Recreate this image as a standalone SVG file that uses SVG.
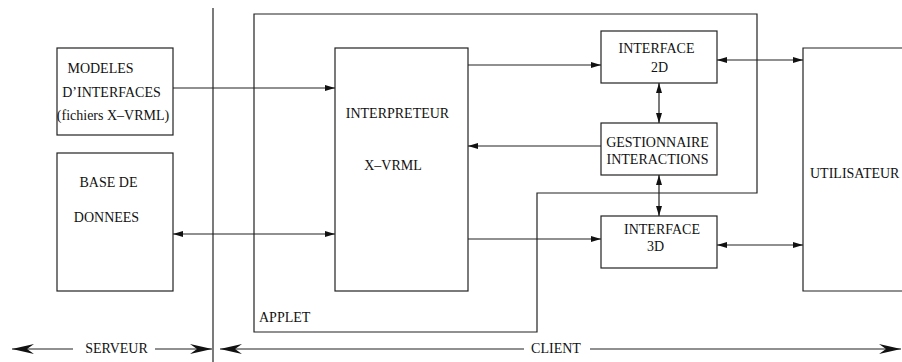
<svg xmlns="http://www.w3.org/2000/svg" width="902" height="362" viewBox="0 0 902 362" font-family="'Liberation Serif', 'Times New Roman', serif" font-size="14">
<defs>
<style>
.box{fill:none;stroke:#222;stroke-width:1.2}
.ln{fill:none;stroke:#222;stroke-width:1.2}
text{font-family:'Liberation Serif','Times New Roman',serif;font-size:14px;fill:#111;text-anchor:middle}
.st{text-anchor:start}
</style>
<marker id="ah" viewBox="0 0 10 6" refX="10" refY="3" markerWidth="10" markerHeight="6" markerUnits="userSpaceOnUse" orient="auto-start-reverse">
<path d="M0,0 L10,3 L0,6 Z" fill="#111"/>
</marker>
<marker id="big" viewBox="0 0 22 10" refX="22" refY="5" markerWidth="22" markerHeight="10" markerUnits="userSpaceOnUse" orient="auto-start-reverse">
<path d="M0,0 L22,5 L0,10 L7,5 Z" fill="#111"/>
</marker>
</defs>
<rect width="902" height="362" fill="#fff"/>
<g id="applet">
<path class="box" d="M254,14 H757 V193 H537 V332 H254 Z"/>
<text class="st" x="259" y="322">APPLET</text>
</g>
<g id="divider"><line class="ln" x1="213" y1="8" x2="213" y2="362"/></g>
<g id="modeles">
<rect class="box" x="57" y="48" width="116" height="87"/>
<text x="100.5" y="73">MODELES</text>
<text x="111.5" y="97">D’INTERFACES</text>
<text x="113" y="120">(fichiers X–VRML)</text>
</g>
<g id="base">
<rect class="box" x="57" y="153" width="116" height="138"/>
<text x="108.5" y="187">BASE DE</text>
<text x="106.5" y="222">DONNEES</text>
</g>
<g id="interpreteur">
<rect class="box" x="335" y="48" width="133" height="243"/>
<text x="397.5" y="118">INTERPRETEUR</text>
<text x="393" y="170">X–VRML</text>
</g>
<g id="interface2d">
<rect class="box" x="601" y="31" width="116" height="52"/>
<text x="656.5" y="53">INTERFACE</text>
<text x="659.5" y="72">2D</text>
</g>
<g id="gestionnaire">
<rect class="box" x="601" y="123" width="116" height="52"/>
<text x="657.5" y="147">GESTIONNAIRE</text>
<text x="657.5" y="164">INTERACTIONS</text>
</g>
<g id="interface3d">
<rect class="box" x="601" y="216" width="116" height="52"/>
<text x="662" y="234">INTERFACE</text>
<text x="655.5" y="251">3D</text>
</g>
<g id="utilisateur">
<path class="box" d="M910,48 H803 V291 H910"/>
<text class="st" x="810" y="178">UTILISATEUR</text>
</g>
<g id="connectors">
<line class="ln" x1="173" y1="88" x2="335" y2="88" marker-end="url(#ah)"/>
<line class="ln" x1="173" y1="234" x2="335" y2="234" marker-start="url(#ah)" marker-end="url(#ah)"/>
<line class="ln" x1="468" y1="65" x2="601" y2="65" marker-end="url(#ah)"/>
<line class="ln" x1="601" y1="146" x2="468" y2="146" marker-end="url(#ah)"/>
<line class="ln" x1="468" y1="239" x2="601" y2="239" marker-end="url(#ah)"/>
<line class="ln" x1="659" y1="83" x2="659" y2="123" marker-start="url(#ah)" marker-end="url(#ah)"/>
<line class="ln" x1="659" y1="175" x2="659" y2="216" marker-start="url(#ah)" marker-end="url(#ah)"/>
<line class="ln" x1="717" y1="60" x2="803" y2="60" marker-start="url(#ah)" marker-end="url(#ah)"/>
<line class="ln" x1="717" y1="245" x2="803" y2="245" marker-start="url(#ah)" marker-end="url(#ah)"/>
<line class="ln" x1="12" y1="349" x2="73" y2="349" marker-start="url(#big)"/>
<line class="ln" x1="155" y1="349" x2="212" y2="349" marker-end="url(#big)"/>
<line class="ln" x1="220" y1="349" x2="524" y2="349" marker-start="url(#big)"/>
<line class="ln" x1="590" y1="349" x2="901" y2="349" marker-end="url(#big)"/>
</g>
<g id="labels">
<text x="116.5" y="353">SERVEUR</text>
<text x="556" y="353">CLIENT</text>
</g>
</svg>
